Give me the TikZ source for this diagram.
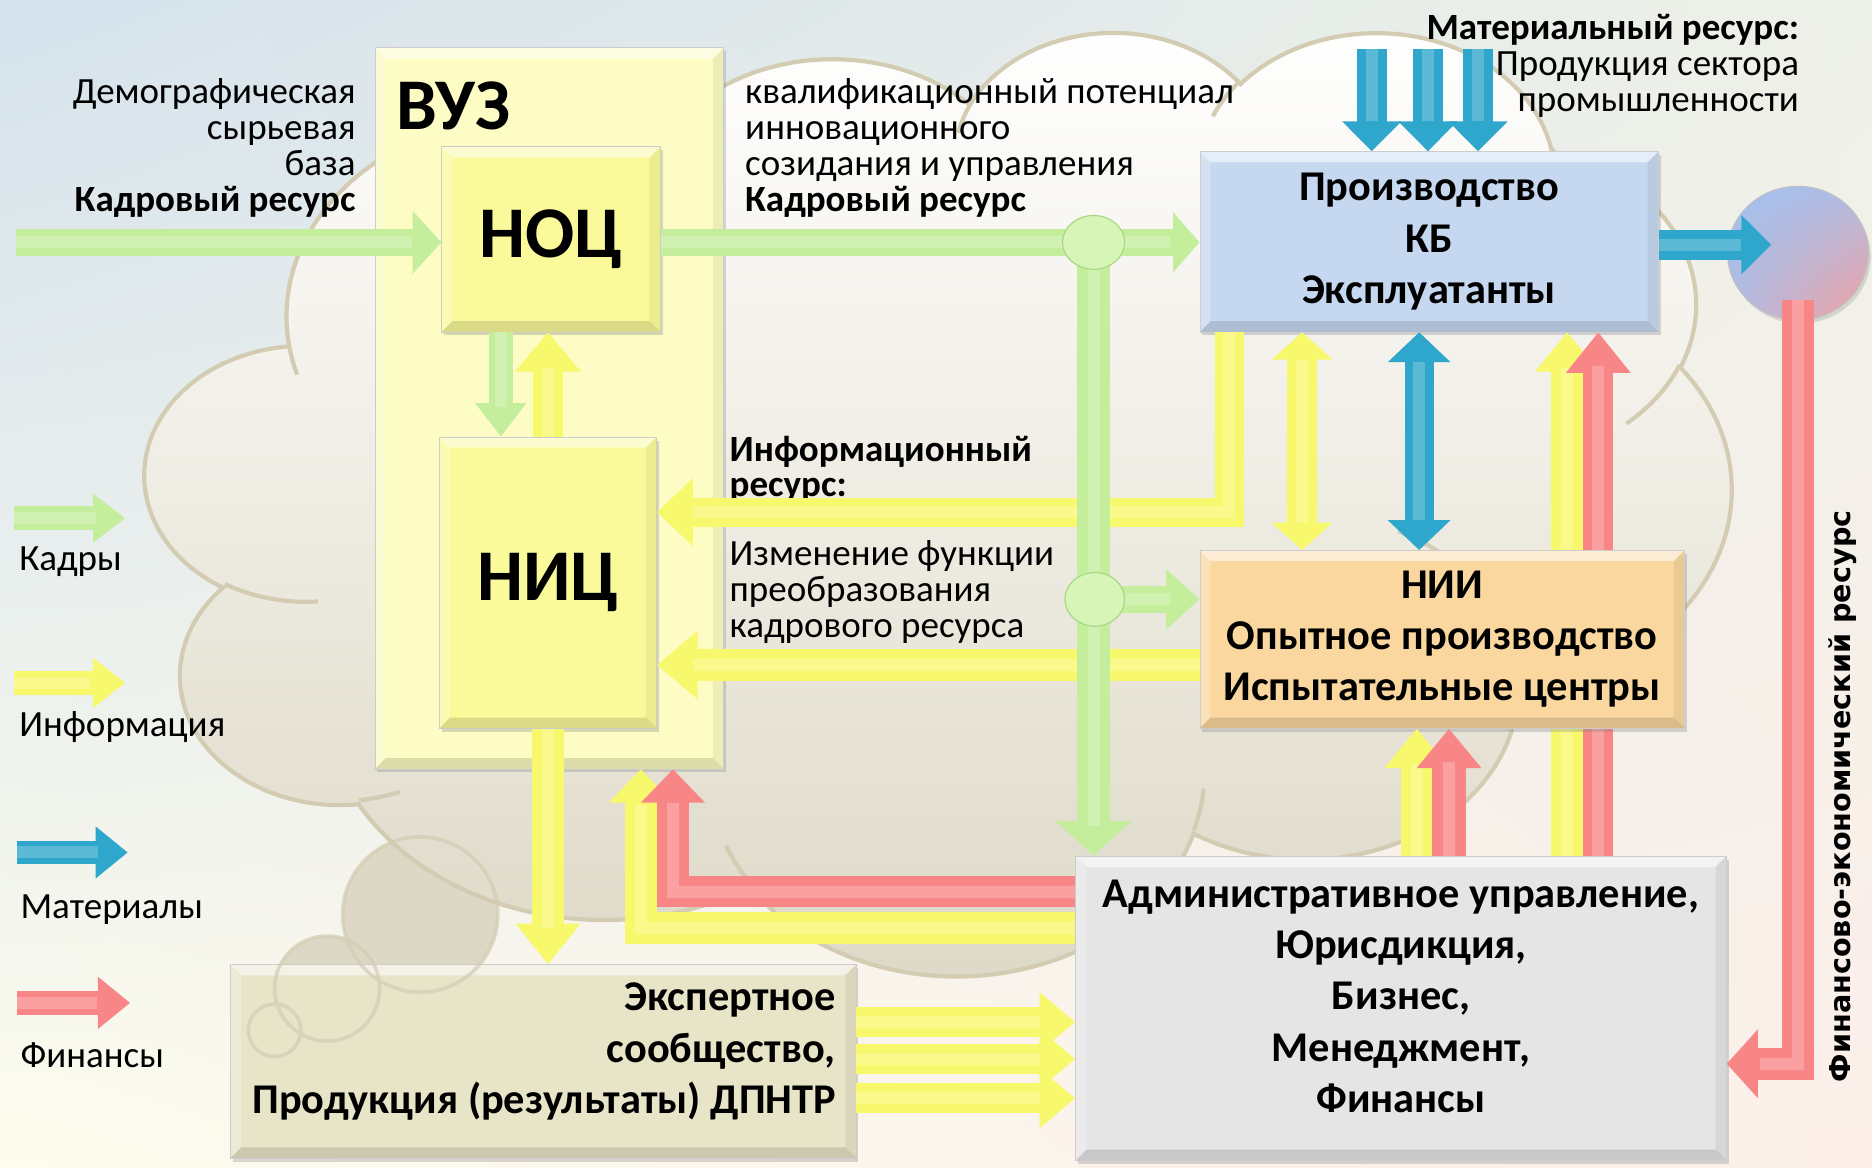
\documentclass[tikz,border=0pt]{standalone}
\usepackage{fontspec}
\setmainfont{Carlito}
\newfontfamily\vertfont{DejaVu Sans}
\usepackage{xcolor}
\usepackage{tikz}
\usetikzlibrary{positioning,shapes.geometric,arrows.meta,shadows,shadings}

\definecolor{bgblue}{HTML}{D5E2EC}
\definecolor{bgtr}{HTML}{EEF1E8}
\definecolor{bgcream}{HTML}{FDFCEE}
\definecolor{bgpink}{HTML}{FCEFEA}
\definecolor{cloudln}{HTML}{D3CCB3}
\definecolor{cloudbot}{HTML}{DDD8C6}
\definecolor{vuzfill}{HTML}{FCFCC4}
\definecolor{nocfill}{HTML}{FAFA9A}
\definecolor{prodfill}{HTML}{C5D8F0}
\definecolor{niifill}{HTML}{F9D79E}
\definecolor{admfill}{HTML}{E5E5E5}
\definecolor{expfill}{HTML}{E8E4C8}
\definecolor{kgreen}{HTML}{C4EE9C}
\definecolor{jgreen}{HTML}{D6F5B6}
\definecolor{jline}{HTML}{A9D884}
\definecolor{kyellow}{HTML}{F8F86C}
\definecolor{kblue}{HTML}{2FA6CB}
\definecolor{kred}{HTML}{F98686}
\definecolor{sphblue}{HTML}{A3C1F0}
\definecolor{sphpink}{HTML}{F4A09E}

\begin{document}
\begin{tikzpicture}[x=1pt,y=-1pt,
  lab/.style={inner sep=0pt,font=\fontsize{31}{30}\selectfont},
  big/.style={font=\fontsize{61}{61}\selectfont\bfseries},
  btxt/.style={inner sep=0pt,align=center,font=\fontsize{35.5}{43}\selectfont\bfseries},
  bev/.style={path picture={
    \coordinate (bnw) at (path picture bounding box.north west);
    \coordinate (bne) at (path picture bounding box.north east);
    \coordinate (bsw) at (path picture bounding box.south west);
    \coordinate (bse) at (path picture bounding box.south east);
    \fill[white,opacity=.55] (bnw) -- (bne) -- ([shift={(-9pt,-9pt)}]bne) -- ([shift={(9pt,-9pt)}]bnw) -- cycle;
    \fill[white,opacity=.25] (bnw) -- ([shift={(9pt,-9pt)}]bnw) -- ([shift={(9pt,9pt)}]bsw) -- (bsw) -- cycle;
    \fill[black,opacity=.12] (bsw) -- (bse) -- ([shift={(-9pt,9pt)}]bse) -- ([shift={(9pt,9pt)}]bsw) -- cycle;
    \fill[black,opacity=.06] (bne) -- (bse) -- ([shift={(-9pt,9pt)}]bse) -- ([shift={(-9pt,-9pt)}]bne) -- cycle;}},
  box/.style={draw=black!20,line width=.6pt,inner sep=0pt,bev,drop shadow={opacity=.3,shadow xshift=2pt,shadow yshift=-3pt}},
  jn/.style={ellipse,draw=jline,line width=1pt,fill=jgreen,inner sep=0pt},
  cloud/.style={draw=cloudln,line width=3.5pt,top color=white,bottom color=cloudbot},
  hl/.style={postaction={draw=white,draw opacity=.22,line width=10pt,-,shorten >=#1}},
  hlb/.style={postaction={draw=white,draw opacity=.22,line width=10pt,-,shorten >=#1,shorten <=#1}},
  ag/.style={draw=kgreen,line width=23pt,-{Triangle[length=25pt,width=51pt]},hl=25pt},
  ay/.style={draw=kyellow,line width=25pt,-{Triangle[length=32pt,width=53pt]},hl=30pt},
  ab/.style={draw=kblue,line width=25pt,-{Triangle[length=25pt,width=48pt]},hl=25pt},
  ar/.style={draw=kred,line width=27pt,-{Triangle[length=28pt,width=54pt]},hl=28pt}]
\useasboundingbox (0,0) rectangle (1568,978);
\shade[upper left=bgblue,upper right=bgtr,lower left=bgcream,lower right=bgpink] (0,0) rectangle (1568,978);
\fill[cloudbot] (352,766) circle[radius=65pt] (274,828) circle[radius=44pt] (230,863) circle[radius=22pt];
\begin{scope}[shift={(122,25)},x=0.30741pt,y=-0.18287pt]
\draw[cloud] (390,1437)
  arc[start angle=-187.75,delta angle=128.12,x radius=675.3,y radius=919]
  arc[start angle=-152.02,delta angle=106.57,x radius=533.3,y radius=726.7]
  arc[start angle=-153.49,delta angle=116.16,x radius=436.5,y radius=594.5]
  arc[start angle=-139.70,delta angle=129.49,x radius=485.7,y radius=659.5]
  arc[start angle=-74.77,delta angle=97.98,x radius=533.3,y radius=727.3]
  arc[start angle=-37.52,delta angle=119.39,x radius=677.5,y radius=922]
  arc[start angle=0.46,delta angle=121.52,x radius=578.5,y radius=786.7]
  arc[start angle=16.85,delta angle=129.39,x radius=675.2,y radius=921.5]
  arc[start angle=58.98,delta angle=91.21,x radius=772,y radius=1054.3]
  arc[start angle=83.30,delta angle=139.81,x radius=436,y radius=591.8]
  arc[start angle=120.36,delta angle=143.75,x radius=434.5,y radius=594.5] -- cycle;
\draw[cloudln,line width=3.5pt]
  (469.3,2617.7) arc[start angle=85.55,delta angle=34.81,x radius=434.5,y radius=594.5]
  (692.8,3489.9) arc[start angle=68.23,delta angle=15.08,x radius=436,y radius=591.8]
  (1647.8,3909) arc[start angle=146.24,delta angle=12.24,x radius=675.2,y radius=921.5]
  (2882.7,3475.1) arc[start angle=4.74,delta angle=12.10,x radius=675.2,y radius=921.5]
  (3412.9,2295.4) arc[start angle=-64.03,delta angle=64.49,x radius=578.5,y radius=786.7]
  (4179.8,1535.4) arc[start angle=23.21,delta angle=26.44,x radius=533.3,y radius=727.3]
  (3832.4,542.6) arc[start angle=-10.21,delta angle=11.03,x radius=485.7,y radius=659.5]
  (2907.8,395.2) arc[start angle=-156.29,delta angle=16.59,x radius=485.7,y radius=659.5]
  (2214.1,472) arc[start angle=-167.73,delta angle=14.24,x radius=436.5,y radius=594.5]
  (1400,519.2) arc[start angle=-59.63,delta angle=13.89,x radius=675.3,y radius=919]
  (412.7,1578.9) arc[start angle=163.20,delta angle=9.05,x radius=675.3,y radius=919];
\end{scope}

\node[lab,align=right,anchor=east] (demo) at (298,124) {Демографическая\\сырьевая\\база\\\textbf{Кадровый ресурс}};
\node[lab,align=left,anchor=west] (qual) at (624,124) {квалификационный потенциал\\инновационного\\созидания и управления\\\textbf{Кадровый ресурс}};
\node[lab,align=right,anchor=east] (matr) at (1507,55) {\textbf{Материальный ресурс:}\\Продукция сектора\\промышленности};
\node[lab,align=left,anchor=west,font=\fontsize{31}{29}\selectfont\bfseries] (info) at (611,393) {Информационный\\ресурс:};
\node[lab,align=left,anchor=west] (chg) at (611,496) {Изменение функции\\преобразования\\кадрового ресурса};
\node[rotate=90,inner sep=0pt,font=\fontsize{24}{24}\selectfont\vertfont\bfseries] (fer) at (1543,667) {Финансово-экономический ресурс};

\coordinate (lg1a) at (12,434); \coordinate (lg1b) at (105,434);
\coordinate (lg2a) at (12,572); \coordinate (lg2b) at (105,572);
\coordinate (lg3a) at (14,714); \coordinate (lg3b) at (107,714);
\coordinate (lg4a) at (14,840); \coordinate (lg4b) at (109,840);
\draw[ag,line width=20pt,-{Triangle[length=27pt,width=39pt]}] (lg1a) -- (lg1b);
\draw[ay,line width=20pt,-{Triangle[length=27pt,width=40pt]}] (lg2a) -- (lg2b);
\draw[ab,line width=20pt,-{Triangle[length=27pt,width=42pt]}] (lg3a) -- (lg3b);
\draw[ar,line width=20pt,-{Triangle[length=27pt,width=42pt]}] (lg4a) -- (lg4b);
\node[lab,below right=24pt and 4pt of lg1a] (lgk) {Кадры};
\node[lab,below right=24pt and 4pt of lg2a] (lgi) {Информация};
\node[lab,below right=35pt and 3pt of lg3a] (lgm) {Материалы};
\node[lab,below right=33pt and 3pt of lg4a] (lgf) {Финансы};

\node[box,fill=vuzfill,minimum width=292pt,minimum height=604pt] (vuz) at (460,342) {};
\node[big,inner sep=0pt,anchor=north west] (vuzt) at ([xshift=18pt,yshift=-29pt]vuz.north west) {ВУЗ};
\node[box,fill=nocfill,big,minimum width=183pt,minimum height=155pt] (noc) at (461.5,200.5) {НОЦ};
\node[box,fill=nocfill,big,minimum width=182pt,minimum height=244pt] (nic) at (459,488) {НИЦ};
\node[box,fill=prodfill,btxt,minimum width=384pt,minimum height=151pt] (prod) at (1197,202.5) {Производство\\КБ\\Эксплуатанты};
\node[box,fill=admfill,minimum width=545pt,minimum height=255pt] (adm) at (1173.5,844.5) {};
\node[btxt] (admt) at ([yshift=10pt]adm.center) {Административное управление,\\Юрисдикция,\\Бизнес,\\Менеджмент,\\Финансы};
\node[box,fill=expfill,minimum width=524pt,minimum height=162pt] (exp) at (455,889) {};
\node[btxt,align=right,anchor=east] (expt) at ([xshift=-17pt,yshift=8pt]exp.east) {Экспертное\\сообщество,\\Продукция (результаты) ДПНТР};
\draw[cloudln,line width=3pt,opacity=.7] (352,766) circle[radius=65pt] (274,828) circle[radius=44pt] (230,863) circle[radius=22pt];
\node[ellipse,draw=black!25,line width=.8pt,minimum width=118pt,minimum height=112pt,upper left=sphblue,upper right=sphblue!85!sphpink,lower left=sphblue!85!sphpink,lower right=sphpink,drop shadow={opacity=.25,shadow xshift=2pt,shadow yshift=-3pt}] (sph) at (1506,212) {};

\coordinate (yu1) at ([xshift=412pt]adm.north west);
\coordinate (ru1) at ([xshift=438pt]adm.north west);
\draw[ay,line width=27pt,-{Triangle[length=33pt,width=52pt]}] (yu1) -- (yu1 |- prod.south);
\draw[ar,line width=25pt,-{Triangle[length=34pt,width=52pt]}] (ru1) -- (ru1 |- prod.south);
\node[box,fill=niifill,btxt,minimum width=406pt,minimum height=149pt] (nii) at (1208,535.5) {НИИ\\Опытное производство\\Испытательные центры};

\coordinate (kin) at (13,203);
\coordinate (j1) at (916,203);
\coordinate (j2) at (917,502);
\coordinate (nd) at ([xshift=-42pt]noc.south);
\coordinate (infs) at ([xshift=25pt]prod.south west);
\coordinate (yd) at ([xshift=86pt]prod.south west);
\coordinate (bd) at ([xshift=184pt]prod.south west);
\coordinate (yu2) at ([xshift=286pt]adm.north west);
\coordinate (ru2) at ([xshift=313pt]adm.north west);
\coordinate (rl) at ([xshift=250pt]vuz.south west);
\coordinate (yl) at ([xshift=223pt]vuz.south west);
\coordinate (rinf) at (0,429);
\coordinate (rchg) at (0,557);
\coordinate (rfin) at (0,747);
\coordinate (ryel) at (0,777);
\coordinate (re1) at (0,856);
\coordinate (re2) at (0,887);
\coordinate (re3) at (0,920);
\coordinate (rsph) at (0,205);
\coordinate (rfe) at (0,891);
\coordinate (m1) at (1149,41);
\coordinate (m2) at (1196,41);
\coordinate (m3) at (1238,41);
\coordinate (sphin) at ([xshift=37pt]sph.west);
\coordinate (fes) at ([yshift=17pt]sph.south);

\draw[ag,-{Triangle[length=24pt,width=51pt]}] (kin) -- (kin -| noc.west);
\draw[ag,-{Triangle[length=22pt,width=49pt]}] (noc.east |- kin) -- (kin -| prod.west);
\draw[ag,line width=20pt,-{Triangle[length=28pt,width=41pt]}] (nd) -- (nd |- nic.north);
\draw[ay,-{Triangle[length=33pt,width=53pt]}] (nic.north) -- (nic.north |- noc.south);
\draw[ay,line width=24pt,-{Triangle[length=30pt,width=55pt]}] (infs) |- (nic.east |- rinf);
\draw[draw=kyellow,line width=25pt,{Triangle[length=23pt,width=50pt]}-{Triangle[length=23pt,width=50pt]},hlb=23pt] (yd) -- (yd |- nii.north);
\draw[draw=kblue,line width=24pt,{Triangle[length=25pt,width=51pt]}-{Triangle[length=25pt,width=51pt]},hlb=25pt] (bd) -- (bd |- nii.north);
\draw[ay,line width=26pt,-{Triangle[length=33pt,width=52pt]}] (yu2) -- (yu2 |- nii.south);
\draw[ar,line width=28pt,-{Triangle[length=33pt,width=52pt]}] (ru2) -- (ru2 |- nii.south);
\draw[ay,line width=27pt,-{Triangle[length=28pt,width=52pt]}] (adm.west |- ryel) -| (yl);
\draw[ar,line width=26pt,-{Triangle[length=28pt,width=52pt]}] (adm.west |- rfin) -| (rl);
\draw[ay,line width=26pt,-{Triangle[length=34pt,width=52pt]}] (nic.south) -- (nic.south |- exp.north);
\draw[ay,line width=27pt,-{Triangle[length=34pt,width=55pt]}] (nii.west |- rchg) -- (nic.east |- rchg);
\draw[ay,-{Triangle[length=30pt,width=48pt]}] (exp.east |- re1) -- (adm.west |- re1);
\draw[ay,-{Triangle[length=30pt,width=48pt]}] (exp.east |- re2) -- (adm.west |- re2);
\draw[ay,-{Triangle[length=30pt,width=48pt]}] (exp.east |- re3) -- (adm.west |- re3);
\draw[ab] (m1) -- (m1 |- prod.north);
\draw[ab] (m2) -- (m2 |- prod.north);
\draw[ab] (m3) -- (m3 |- prod.north);
\draw[ab] (prod.east |- rsph) -- (sphin |- rsph);
\draw[ar,-{Triangle[length=26pt,width=56pt]}] (fes) |- (adm.east |- rfe);
\draw[ag,-{Triangle[length=28pt,width=49pt]}] (j2) -- (j2 -| nii.west);
\draw[ag,line width=28pt,-{Triangle[length=29pt,width=62pt]}] (j1) -- (j1 |- adm.north);
\node[jn,minimum width=52pt,minimum height=45pt] (jc1) at (j1) {};
\node[jn,minimum width=50pt,minimum height=45pt] (jc2) at (j2) {};
\end{tikzpicture}
\end{document}
